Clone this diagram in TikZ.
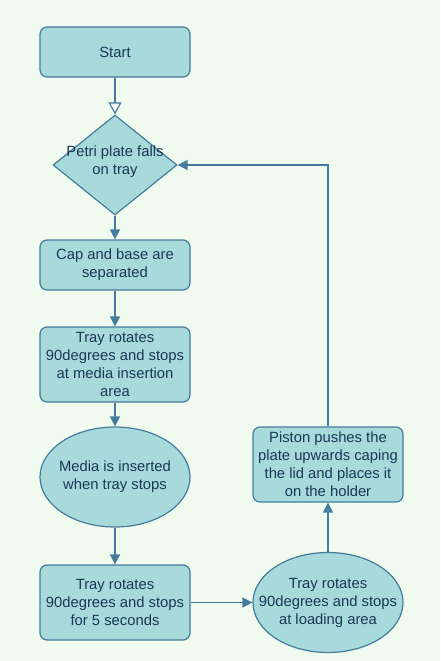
\documentclass[tikz,border=0pt]{standalone}
\usepackage{fontspec}
\setmainfont{Liberation Sans}
\usetikzlibrary{shapes.geometric,arrows.meta}
\definecolor{bgc}{HTML}{F1FAEE}
\definecolor{fillc}{HTML}{A8DADC}
\definecolor{strokec}{HTML}{457B9D}
\definecolor{textc}{HTML}{1D3557}
\begin{document}
\begin{tikzpicture}[x=1pt,y=-1pt,
  every node/.style={font=\fontsize{14.8}{18}\selectfont, text=textc},
  boxnode/.style={draw=strokec, fill=fillc, line width=1.2pt, rounded corners=7pt,
     minimum width=150pt, inner sep=0pt, align=center},
  ellnode/.style={draw=strokec, fill=fillc, line width=1.2pt, ellipse,
     minimum width=150pt, minimum height=100pt, inner sep=0pt},
  dianode/.style={draw=strokec, fill=fillc, line width=1.2pt, diamond, aspect=1.24,
     minimum width=124pt, minimum height=100pt, inner sep=0pt},
  txt/.style={align=center, inner sep=0pt},
  conn/.style={draw=strokec, line width=1.4pt, -{Triangle[length=10pt,width=10pt]}},
  openconn/.style={draw=strokec, line width=1.4pt, -{Triangle[length=12pt,width=13pt,fill=white,line width=1.2pt]}}
]
\fill[bgc] (0,0) rectangle (440,661);
\useasboundingbox (0,0) rectangle (440,661);

\node[boxnode, minimum height=50pt] (start) at (115,52) {Start};
\node[dianode] (dia) at (115,165) {};
\node[txt] (diat) at (115,162) {Petri plate falls\\on tray};
\node[boxnode, minimum height=50pt] (cap) at (115,265) {Cap and base are\\separated};
\node[boxnode, minimum height=75pt] (tray1) at (115,364.5) {Tray rotates\\90degrees and stops\\at media insertion\\area};
\node[ellnode] (media) at (115,477) {};
\node[txt] (mediat) at (115,477) {Media is inserted\\when tray stops};
\node[boxnode, minimum height=75pt] (tray2) at (115,602.5) {Tray rotates\\90degrees and stops\\for 5 seconds};
\node[ellnode] (load) at (328,602.5) {};
\node[txt] (loadt) at (328,602.5) {Tray rotates\\90degrees and stops\\at loading area};
\node[boxnode, minimum height=75pt] (piston) at (328,464.5) {Piston pushes the\\plate upwards caping\\the lid and places it\\on the holder};

\draw[openconn] (start.south) -- (dia.north);
\draw[conn] (dia.south) -- (cap.north);
\draw[conn] (cap.south) -- (tray1.north);
\draw[conn] (tray1.south) -- (media.north);
\draw[conn] (media.south) -- (tray2.north);
\draw[conn] (tray2.east) -- (load.west);
\draw[conn] (load.north) -- (piston.south);
\draw[conn] (piston.north) |- (dia.east);
\end{tikzpicture}
\end{document}
